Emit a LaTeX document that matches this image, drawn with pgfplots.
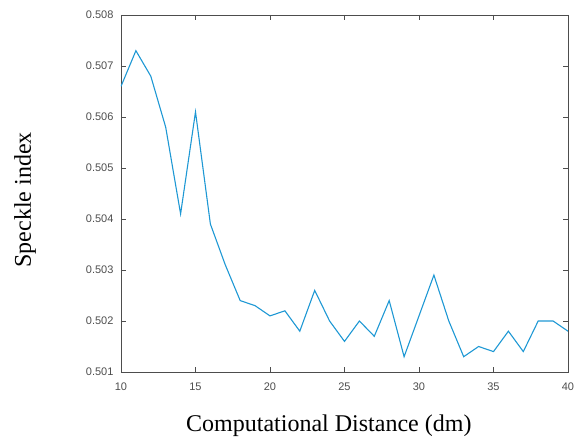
\documentclass[border=0pt]{standalone}
\usepackage{pgfplots}
\pgfplotsset{compat=1.18}
\usepackage{fontspec}
\setmainfont{Liberation Serif}
\newfontfamily\ticksans{Liberation Sans}
\definecolor{mline}{RGB}{30,152,212}
\definecolor{tickgray}{RGB}{77,77,77}
\begin{document}
\begin{tikzpicture}
\begin{axis}[
  at={(0pt,0pt)},
  scale only axis,
  width=447pt, height=357pt,
  xmin=10, xmax=40, ymin=0.501, ymax=0.508,
  xtick={10,15,...,40},
  ytick={0.501,0.502,...,0.508},
  tick align=inside,
  major tick length=5pt,
  axis line style={tickgray, line width=0.6pt},
  tick style={tickgray, line width=0.6pt},
  /pgf/number format/assume math mode=true,
  yticklabel style={/pgf/number format/fixed, /pgf/number format/precision=3, /pgf/number format/fixed zerofill, font=\ticksans\fontsize{11}{13}\selectfont, text=tickgray, xshift=-4pt},
  xticklabel style={font=\ticksans\fontsize{11}{13}\selectfont, text=tickgray, yshift=-7pt},
  scaled y ticks=false,
  xlabel={Computational Distance (dm)},
  ylabel={Speckle index},
  xlabel style={font=\fontsize{24}{28}\selectfont, at={(axis description cs:0.465,-0.1513)}, anchor=center},
  ylabel style={font=\fontsize{24}{28}\selectfont, at={(axis description cs:-0.2148,0.482)}, anchor=center},
]
\addplot[mline, line width=1.1pt] coordinates {
(10,0.5066) (11,0.5073) (12,0.5068) (13,0.5058) (14,0.5041) (15,0.5061)
(16,0.5039) (17,0.5031) (18,0.5024) (19,0.5023) (20,0.5021) (21,0.5022)
(22,0.5018) (23,0.5026) (24,0.5020) (25,0.5016) (26,0.5020) (27,0.5017)
(28,0.5024) (29,0.5013) (30,0.5021) (31,0.5029) (32,0.5020) (33,0.5013)
(34,0.5015) (35,0.5014) (36,0.5018) (37,0.5014) (38,0.5020) (39,0.5020)
(40,0.5018)};
\end{axis}
\pgfresetboundingbox
\path (-121pt,-69pt) rectangle (455pt,372pt);
\end{tikzpicture}
\end{document}
